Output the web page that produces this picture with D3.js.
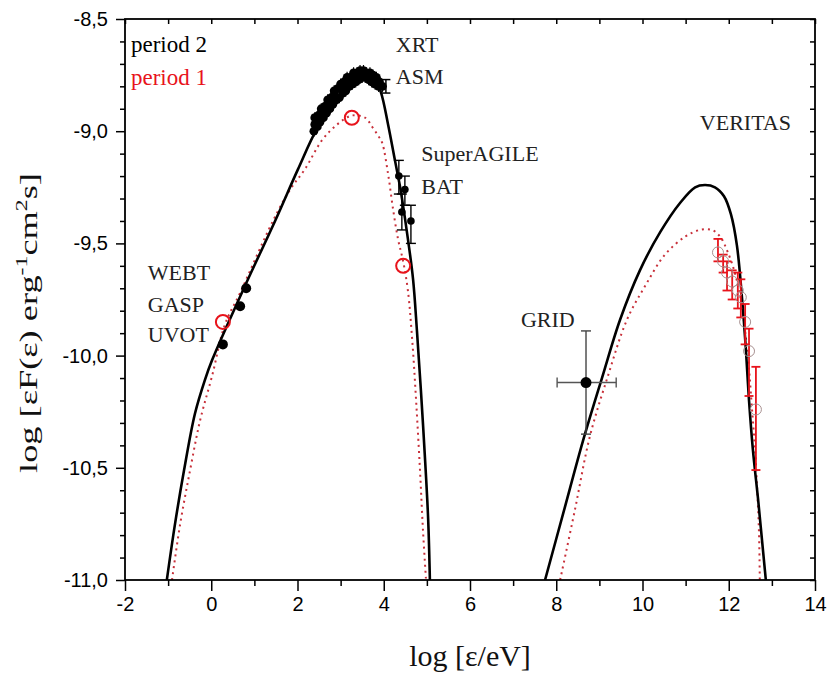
<!DOCTYPE html>
<html><head><meta charset="utf-8">
<script src="https://cdn.jsdelivr.net/npm/d3@7"></script>
<style>body{margin:0;background:#fff}svg{display:block}</style>
</head><body>
<svg id="c" width="829" height="679"></svg>
<script>
// ---------- data ----------
const xTickValues = [-2, 0, 2, 4, 6, 8, 10, 12, 14];
const xMinorValues = [-1, 1, 3, 5, 7, 9, 11, 13];
const yTickValues = [-8.5, -9.0, -9.5, -10.0, -10.5, -11.0];

// synchrotron model, period 2 (solid black)
const syncPeriod2 = [[-1.03,-11.0],[-0.84,-10.75],[-0.63,-10.51],[-0.38,-10.26],[-0.15,-10.11],[0.02,-10.02],
  [0.78,-9.69],[1.48,-9.40],[2.01,-9.17],[2.45,-8.99],[2.87,-8.87],[3.22,-8.80],[3.50,-8.76],[3.63,-8.75],
  [3.80,-8.77],[3.94,-8.83],[4.10,-8.97],[4.26,-9.13],[4.38,-9.25],[4.47,-9.36],[4.56,-9.48],[4.68,-9.66],
  [4.77,-9.89],[4.86,-10.15],[4.96,-10.47],[5.03,-10.73],[5.07,-11.0]];
// synchrotron model, period 1 (red dotted)
const syncPeriod1 = [[-0.91,-11.0],[-0.72,-10.75],[-0.49,-10.51],[-0.26,-10.29],[0.02,-10.09],[0.32,-9.86],
  [0.67,-9.72],[1.43,-9.40],[1.83,-9.26],[2.17,-9.17],[2.57,-9.04],[2.92,-8.97],[3.26,-8.93],[3.57,-8.94],
  [3.73,-8.98],[3.87,-9.02],[3.96,-9.05],[4.10,-9.19],[4.21,-9.34],[4.33,-9.48],[4.45,-9.58],[4.56,-9.71],
  [4.66,-9.93],[4.75,-10.20],[4.84,-10.51],[4.91,-10.78],[4.98,-11.0]];
// inverse Compton model, period 2 (solid black)
const icPeriod2 = [[7.74,-11.0],[8.18,-10.69],[8.62,-10.38],[9.06,-10.10],[9.48,-9.84],[9.94,-9.62],
  [10.41,-9.45],[10.87,-9.32],[11.22,-9.25],[11.45,-9.24],[11.68,-9.25],[11.89,-9.29],[12.05,-9.37],
  [12.19,-9.51],[12.31,-9.75],[12.40,-9.98],[12.47,-10.20],[12.56,-10.42],[12.68,-10.64],[12.77,-10.82],[12.86,-11.0]];
// inverse Compton model, period 1 (red dotted)
const icPeriod1 = [[8.09,-11.0],[8.43,-10.69],[8.78,-10.36],[9.20,-10.09],[9.64,-9.84],[10.06,-9.69],
  [10.52,-9.55],[10.99,-9.47],[11.33,-9.44],[11.61,-9.44],[11.80,-9.47],[11.98,-9.54],[12.14,-9.63],
  [12.28,-9.75],[12.38,-9.89],[12.47,-10.06],[12.54,-10.24],[12.61,-10.42],[12.66,-10.60],[12.70,-10.78],[12.72,-11.0]];

// period 2 data: XRT / ASM  [x, y]
const xrtPeriod2 = [[2.38,-9.00],[2.40,-8.97],[2.40,-8.94],[2.46,-8.98],[2.48,-8.93],[2.52,-8.96],[2.55,-8.92],[2.55,-8.90],
  [2.60,-8.94],[2.63,-8.89],[2.67,-8.92],[2.70,-8.88],[2.70,-8.86],[2.75,-8.90],[2.78,-8.85],[2.82,-8.88],[2.85,-8.84],
  [2.85,-8.82],[2.90,-8.86],[2.93,-8.81],[2.97,-8.85],[3.00,-8.80],[3.00,-8.79],[3.05,-8.83],[3.08,-8.78],[3.12,-8.82],
  [3.15,-8.78],[3.15,-8.76],[3.20,-8.80],[3.23,-8.76],[3.27,-8.79],[3.30,-8.75],[3.30,-8.74],[3.35,-8.78],[3.38,-8.74],
  [3.42,-8.77],[3.45,-8.74],[3.45,-8.73],[3.50,-8.76],[3.53,-8.73],[3.57,-8.76],[3.60,-8.74],[3.65,-8.77],[3.68,-8.74],
  [3.72,-8.78],[3.75,-8.75],[3.80,-8.79],[3.83,-8.76],[3.88,-8.80],[3.90,-8.78],[3.97,-8.80]];
const xrtErr = 0.025;
const asmPoint = [[4.05, -8.80, 0.03]];
// period 2 data: SuperAGILE / BAT  [x, y, yLow, yHigh]
const batPeriod2 = [[4.35,-9.20,-9.28,-9.13],[4.49,-9.26,-9.33,-9.20],[4.42,-9.36,-9.44,-9.28],[4.63,-9.40,-9.50,-9.33]];
// period 2 data: WEBT / GASP / UVOT
const optPeriod2 = [[0.81,-9.70],[0.67,-9.78],[0.27,-9.95]];
// period 2 data: GRID  [x, y, xLow, xHigh, yLow, yHigh]
const gridPeriod2 = [[8.69,-10.12,8.02,9.39,-10.35,-9.89]];
// period 1 data (open red circles)
const period1Points = [[0.27,-9.85],[3.26,-8.94],[4.45,-9.60]];
// period 1 VERITAS  [x, y, yLow, yHigh]
const veritasPeriod1 = [[11.75,-9.54,-9.58,-9.48],[11.87,-9.58,-9.63,-9.55],[11.96,-9.63,-9.71,-9.58],
  [12.08,-9.67,-9.75,-9.62],[12.21,-9.71,-9.79,-9.63],[12.28,-9.74,-9.83,-9.66],[12.38,-9.85,-9.95,-9.77],
  [12.47,-9.98,-10.18,-9.88],[12.63,-10.24,-10.51,-10.05]];

const instrumentLabels = [
  {t:"XRT", x:4.28, y:-8.645}, {t:"ASM", x:4.28, y:-8.79},
  {t:"SuperAGILE", x:4.87, y:-9.135}, {t:"BAT", x:4.87, y:-9.28},
  {t:"VERITAS", x:11.33, y:-8.995}, {t:"GRID", x:7.18, y:-9.873},
  {t:"WEBT", x:-1.47, y:-9.663}, {t:"GASP", x:-1.47, y:-9.806}, {t:"UVOT", x:-1.47, y:-9.94}
];
const legendLabels = [{t:"period 2", c:"#000"}, {t:"period 1", c:"#e8131b"}];

// ---------- drawing ----------
const svg = d3.select("#c");
const x = d3.scaleLinear().domain([-2, 14]).range([125, 815]);
const y = d3.scaleLinear().domain([-11, -8.5]).range([580, 19]);
const RED = "#e8131b";
const serif = "'Liberation Serif', 'Times New Roman', serif";
const sans = "'Liberation Sans', Arial, sans-serif";

svg.append("clipPath").attr("id","pc").append("rect")
  .attr("x",125).attr("y",19).attr("width",690).attr("height",561);

const line = d3.line().x(d=>x(d[0])).y(d=>y(d[1])).curve(d3.curveCatmullRom.alpha(0.5));
const curves = svg.append("g").attr("clip-path","url(#pc)");
[syncPeriod1, icPeriod1].forEach(c=>curves.append("path").attr("d", line(c)).attr("fill","none")
  .attr("stroke","#c8303a").attr("stroke-width",2).attr("stroke-dasharray","2,4"));
[syncPeriod2, icPeriod2].forEach(c=>curves.append("path").attr("d", line(c)).attr("fill","none")
  .attr("stroke","#000").attr("stroke-width",2.6));

// axes
const fmtY = d => (d<0?"-":"") + Math.abs(d).toFixed(1).replace(".", ",");
const fmtX = d => (d<0?"-":"") + Math.abs(d);
const yMinor = d3.range(-11, -8.45, 0.1).map(v=>+v.toFixed(1)).filter(v=>!yTickValues.includes(v));

function styleAxis(g, fs){
  g.select(".domain").remove();
  g.selectAll(".tick line").attr("stroke","#000").attr("stroke-width",1.5);
  g.selectAll(".tick text").attr("font-family",sans).attr("font-size",fs).attr("fill","#000");
}
svg.append("g").attr("transform","translate(0,580)")
  .call(d3.axisBottom(x).tickValues(xTickValues).tickSize(11).tickPadding(6).tickFormat(fmtX))
  .call(g=>styleAxis(g,20));
svg.append("g").attr("transform","translate(0,580)")
  .call(d3.axisBottom(x).tickValues(xMinorValues).tickSize(6).tickFormat(""))
  .call(g=>styleAxis(g,20));
svg.append("g").attr("transform","translate(125,0)")
  .call(d3.axisLeft(y).tickValues(yTickValues).tickSize(9).tickPadding(8).tickFormat(fmtY))
  .call(g=>styleAxis(g,20));
svg.append("g").attr("transform","translate(125,0)")
  .call(d3.axisLeft(y).tickValues(yMinor).tickSize(5).tickFormat(""))
  .call(g=>styleAxis(g,20));
// mirrored inner ticks on top and right
svg.append("g").attr("transform","translate(0,19)")
  .call(d3.axisBottom(x).tickValues(xTickValues.concat(xMinorValues)).tickSize(5).tickFormat(""))
  .call(g=>styleAxis(g,19));
svg.append("g").attr("transform","translate(815,0)")
  .call(d3.axisRight(y).tickValues(yTickValues.concat(yMinor)).tickSize(-5).tickFormat(""))
  .call(g=>styleAxis(g,19));
svg.append("rect").attr("x",125).attr("y",19).attr("width",690).attr("height",561)
  .attr("fill","none").attr("stroke","#000").attr("stroke-width",1.8);

// error bars helper
function vbar(g, xv, y0, y1, cap, color, w){
  g.append("line").attr("x1",x(xv)).attr("x2",x(xv)).attr("y1",y(y0)).attr("y2",y(y1)).attr("stroke",color).attr("stroke-width",w);
  if(cap>0){
    [y0,y1].forEach(v=>g.append("line").attr("x1",x(xv)-cap).attr("x2",x(xv)+cap).attr("y1",y(v)).attr("y2",y(v)).attr("stroke",color).attr("stroke-width",w));
  }
}
const marks = svg.append("g");

// XRT band
xrtPeriod2.forEach(d=>vbar(marks, d[0], d[1]-xrtErr, d[1]+xrtErr, 0, "#000", 1.2));
marks.selectAll(".xrt").data(xrtPeriod2).join("circle").attr("cx",d=>x(d[0])).attr("cy",d=>y(d[1]))
  .attr("r",4.4).attr("fill","#000");
asmPoint.forEach(d=>vbar(marks, d[0], d[1]-d[2], d[1]+d[2], 4.5, "#000", 1.5));

// SuperAGILE / BAT
batPeriod2.forEach(d=>vbar(marks, d[0], d[2], d[3], 5, "#000", 1.4));
marks.selectAll(".bat").data(batPeriod2).join("circle").attr("cx",d=>x(d[0])).attr("cy",d=>y(d[1]))
  .attr("r",3.8).attr("fill","#000");

// optical
marks.selectAll(".opt").data(optPeriod2).join("circle").attr("cx",d=>x(d[0])).attr("cy",d=>y(d[1]))
  .attr("r",5).attr("fill","#000");

// GRID
gridPeriod2.forEach(d=>{
  vbar(marks, d[0], d[4], d[5], 5, "#444", 1.4);
  marks.append("line").attr("x1",x(d[2])).attr("x2",x(d[3])).attr("y1",y(d[1])).attr("y2",y(d[1])).attr("stroke","#555").attr("stroke-width",1.4);
  [d[2],d[3]].forEach(v=>marks.append("line").attr("x1",x(v)).attr("x2",x(v)).attr("y1",y(d[1])-5).attr("y2",y(d[1])+5).attr("stroke","#555").attr("stroke-width",1.4));
  marks.append("circle").attr("cx",x(d[0])).attr("cy",y(d[1])).attr("r",5.5).attr("fill","#000");
});

// VERITAS
veritasPeriod1.forEach(d=>vbar(marks, d[0], d[2], d[3], 4.5, RED, 1.8));
marks.selectAll(".ver").data(veritasPeriod1).join("circle").attr("cx",d=>x(d[0])).attr("cy",d=>y(d[1]))
  .attr("r",5.5).attr("fill","none").attr("stroke","#a89090").attr("stroke-width",1);

// period 1 open circles
marks.selectAll(".p1").data(period1Points).join("circle").attr("cx",d=>x(d[0])).attr("cy",d=>y(d[1]))
  .attr("r",7).attr("fill","none").attr("stroke",RED).attr("stroke-width",2);

// labels
svg.selectAll(".lab").data(instrumentLabels).join("text").attr("x",d=>x(d.x)).attr("y",d=>y(d.y))
  .attr("font-family",serif).attr("font-size",22).attr("fill","#222").text(d=>d.t);
svg.selectAll(".leg").data(legendLabels).join("text").attr("x",131).attr("y",(d,i)=>52+i*33)
  .attr("font-family",serif).attr("font-size",23).attr("fill",d=>d.c).text(d=>d.t);

// axis titles
svg.append("text").attr("x",470).attr("y",666).attr("text-anchor","middle")
  .attr("font-family",serif).attr("font-size",30).attr("fill","#111").text("log [ε/eV]");
const ytG = svg.append("g");
const yt = ytG.append("text").attr("text-anchor","middle")
  .attr("font-family",serif).attr("font-size",26).attr("fill","#111");
yt.append("tspan").text("log [εF(ε) erg");
yt.append("tspan").attr("dy",-10).attr("font-size",17).text("-1");
yt.append("tspan").attr("dy",10).text("cm");
yt.append("tspan").attr("dy",-10).attr("font-size",17).text("2");
yt.append("tspan").attr("dy",10).text("s]");
const bb = yt.node().getBBox();
const sx = 300 / bb.width;
ytG.attr("transform",`translate(37,323) rotate(-90) scale(${sx},1)`);
</script>
</body></html>
